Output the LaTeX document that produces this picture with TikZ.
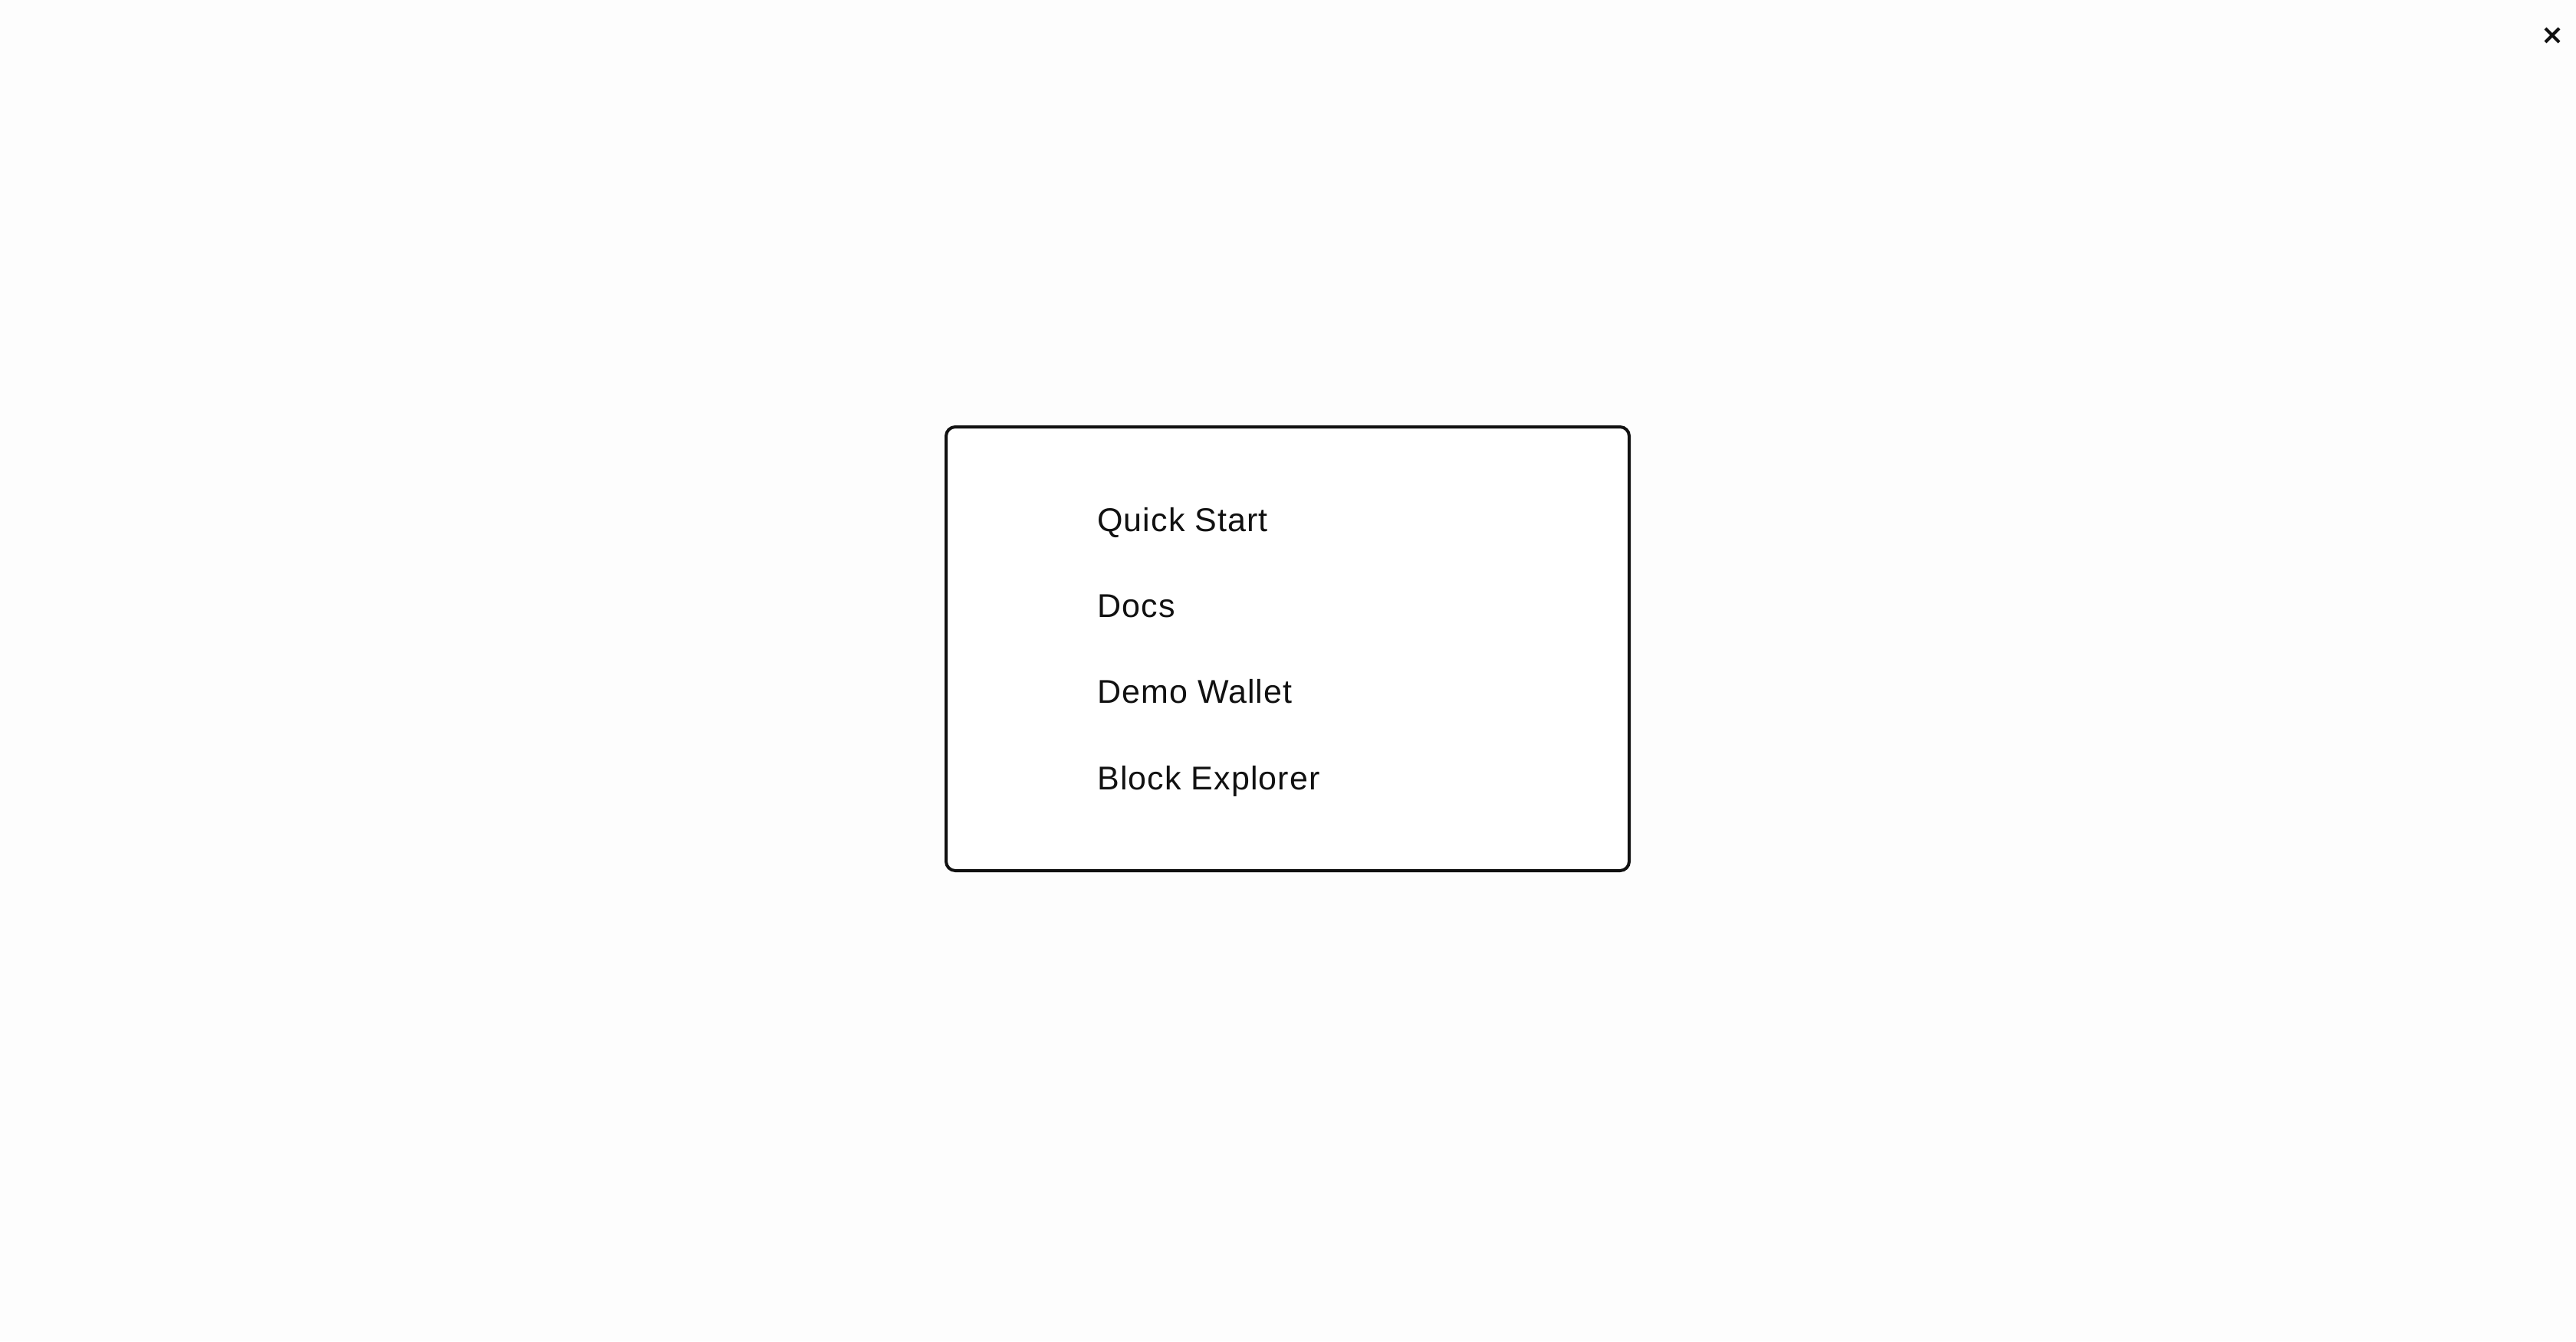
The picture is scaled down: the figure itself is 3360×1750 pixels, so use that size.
\documentclass[tikz,border=0pt]{standalone}
\usepackage{fontspec}
\setmainfont{Liberation Sans}[LetterSpace=2.5]
\definecolor{bg}{HTML}{FDFDFD}
\definecolor{ink}{HTML}{111111}
\begin{document}
\begin{tikzpicture}[x=0.5pt,y=-0.5pt,
  menuitem/.style={anchor=base west,inner sep=0pt,text=ink,font=\fontsize{21.5}{24}\selectfont},
  panel/.style={draw=ink,line width=2pt,rounded corners=6pt,fill=white}]
\fill[bg] (0,0) rectangle (3360,1750);
\useasboundingbox (0,0) rectangle (3360,1750);
\draw[panel] (1234,557) rectangle (2125,1136);
\node[menuitem] (qs) at (1431,693) {Quick Start};
\node[menuitem] (docs) at (1431,805) {Docs};
\node[menuitem] (dw) at (1431,917) {Demo Wallet};
\node[menuitem] (be) at (1431,1030) {Block Explorer};
\coordinate (c1) at (3320,37);
\coordinate (c2) at (3338,55);
\coordinate (c3) at (3338,37);
\coordinate (c4) at (3320,55);
\draw[ink,line width=2pt] (c1) -- (c2) (c3) -- (c4);
\end{tikzpicture}
\end{document}
